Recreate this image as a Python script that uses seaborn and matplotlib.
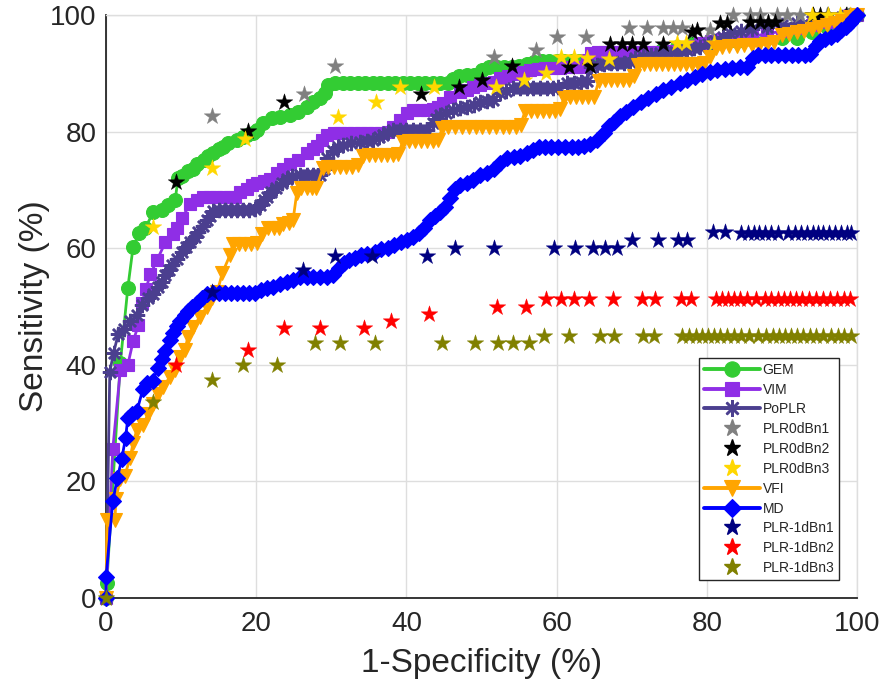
import matplotlib
matplotlib.use("Agg")
import matplotlib.pyplot as plt
import seaborn as sns
from matplotlib.lines import Line2D

# ---------------- data ----------------
gem_x = [0, 0.1, 1.9, 2.9, 3.6, 4.4, 5.2, 6.3, 7.4, 8.3, 9.2, 9.6, 10.1, 10.9, 11.6, 12.1, 13.0, 13.6,
         14.2, 15.0, 15.6, 16.3, 17.4, 18.2, 18.8, 19.6, 20.1, 20.9, 22.1, 23.2, 24.5, 25.6, 26.8, 27.6,
         28.5, 29.2, 29.6, 30.5, 31.5, 32.5, 33.5, 34.5, 35.5, 36.5, 37.5, 38.5, 39.5, 40.5, 41.5, 42.5,
         43.5, 44.5, 45.5, 46.2, 47.0, 48.0, 49.0, 50.0, 51.0, 52.0, 53.0, 54.0, 55.0, 56.0, 57.0, 58.0,
         59.0, 60.0, 61.0, 62.0, 63.0, 64.0, 65.0, 66.0, 67.0, 68.0, 69.0, 70.5, 72.0, 74.0, 76.0, 78.0,
         80.0, 82.0, 84.0, 86.0, 88.0, 90.0, 92.0, 94.0, 96.0, 98.0, 99.0, 100]
gem_y = [0, 2.6, 40.3, 53.2, 60.2, 62.6, 63.4, 66.2, 66.6, 67.4, 68.3, 72.0, 72.4, 73.2, 73.6, 74.4, 75.2, 75.8,
         76.4, 77.0, 77.4, 78.0, 78.6, 79.0, 79.4, 79.8, 80.3, 81.4, 82.3, 82.5, 82.8, 83.4, 84.3, 85.1,
         85.7, 86.6, 88.0, 88.3, 88.3, 88.3, 88.3, 88.3, 88.3, 88.3, 88.3, 88.3, 88.3, 88.3, 88.3, 88.3,
         88.3, 88.3, 88.3, 89.0, 89.6, 89.7, 89.7, 90.5, 91.0, 91.0, 91.0, 91.1, 91.2, 91.6, 92.0, 92.1,
         92.1, 92.1, 92.1, 92.1, 92.1, 92.1, 92.1, 92.1, 92.1, 92.1, 92.1, 93.0, 93.5, 94.0, 94.5, 95.0,
         95.2, 95.5, 95.5, 95.8, 96.0, 96.0, 96.0, 97.0, 98.0, 99.0, 100, 100]

vim_x = [0, 0.9, 1.9, 2.9, 3.6, 4.3, 4.8, 5.3, 5.9, 6.8, 7.9, 8.9, 9.5, 10.1, 11.2, 12.1, 12.9, 13.8, 14.7,
         15.6, 16.5, 17.2, 17.8, 18.8, 19.5, 20.1, 21.0, 21.8, 22.8, 23.5, 24.5, 25.6, 26.8, 27.5, 28.1,
         28.8, 29.4, 30.3, 31.2, 32.1, 33.0, 33.9, 34.8, 35.7, 36.6, 37.5, 38.2, 39.1, 40.1, 40.9, 41.8,
         42.7, 43.6, 44.2, 44.9, 45.8, 47.1, 48.0, 48.9, 49.8, 50.7, 51.6, 52.5, 53.5, 54.5, 55.5, 56.5,
         57.5, 58.5, 59.5, 60.5, 61.5, 62.5, 63.3, 64.0, 64.6, 65.5, 66.5, 67.5, 68.5, 69.5, 70.5, 71.5,
         72.5, 73.5, 74.5, 75.5, 76.5, 77.4, 78.3, 79.1, 80.5, 82.0, 84.0, 86.0, 88.0, 90.0, 92.0, 94.0,
         96.0, 98.0, 99.0, 100]
vim_y = [0, 25.6, 39.1, 40.0, 44.0, 46.8, 50.6, 53.0, 55.5, 58.0, 61.0, 62.4, 63.5, 65.2, 67.5, 68.2, 68.7, 68.7, 68.7,
         68.7, 68.7, 68.8, 69.6, 70.2, 70.8, 71.2, 71.6, 71.8, 72.9, 73.6, 74.5, 75.2, 76.3, 77.0, 77.6,
         78.6, 79.5, 79.8, 79.8, 79.8, 79.8, 79.8, 79.8, 79.8, 79.8, 79.9, 80.8, 82.0, 83.2, 83.7, 83.7,
         83.7, 83.8, 84.3, 84.9, 86.0, 86.8, 87.2, 87.7, 88.0, 88.3, 88.5, 89.2, 89.6, 89.9, 90.2, 90.6,
         90.8, 90.9, 90.9, 90.9, 91.0, 91.0, 91.1, 92.3, 93.4, 93.6, 93.7, 93.7, 93.7, 93.7, 93.7, 93.7,
         93.7, 93.6, 93.5, 93.8, 94.1, 94.3, 94.7, 95.2, 95.5, 95.8, 96.0, 96.3, 96.8, 97.2, 97.8, 98.3,
         98.8, 99.5, 100, 100]

poplr_x = [0, 0.5, 1.0, 1.6, 2.4, 3.2, 4.1, 4.8, 5.6, 6.3, 6.9, 7.4, 7.9, 8.4, 8.8, 9.5, 10.1, 10.7, 11.2,
           11.8, 12.3, 12.9, 13.4, 13.9, 14.3, 15.1, 15.9, 16.7, 17.5, 18.3, 19.1, 19.8, 20.5, 21.0, 21.4,
           22.0, 22.6, 23.4, 24.1, 24.8, 25.8, 26.7, 27.6, 28.5, 29.0, 29.4, 30.2, 30.9, 31.6, 32.6, 33.8,
           34.7, 35.6, 36.3, 36.9, 37.6, 38.2, 39.1, 40.0, 40.9, 41.8, 42.7, 43.5, 44.0, 44.5, 45.3, 46.2,
           47.1, 48.1, 49.0, 49.8, 50.7, 51.5, 52.5, 53.3, 54.2, 55.1, 56.0, 56.9, 57.8, 58.7, 59.5, 60.2,
           61.4, 62.3, 63.2, 64.0, 64.6, 65.4, 66.3, 67.2, 68.1, 69.0, 69.8, 70.4, 71.5, 72.6, 73.7, 74.7,
           75.7, 76.6, 77.4, 78.3, 79.1, 80.1, 81.1, 82.1, 83.1, 84.5, 86.0, 88.0, 90.0, 92.0, 94.0, 96.0,
           98.0, 99.0, 100]
poplr_y = [0, 38.8, 42.0, 45.2, 46.2, 47.5, 48.5, 50.2, 51.4, 52.2, 53.3, 54.2, 55.4, 56.2, 57.1, 58.2, 59.3, 60.2, 61.1,
           62.0, 62.8, 63.8, 64.8, 65.6, 66.4, 66.6, 66.6, 66.6, 66.6, 66.6, 66.6, 66.8, 67.4, 68.2, 68.8,
           69.6, 70.3, 71.2, 71.8, 72.3, 72.6, 72.6, 72.6, 72.6, 73.5, 75.4, 76.6, 77.4, 77.7, 78.0, 78.2,
           78.4, 78.6, 79.0, 79.4, 79.9, 80.3, 80.3, 80.3, 80.3, 80.3, 80.3, 81.5, 82.2, 82.8, 83.2, 83.7,
           84.0, 84.2, 84.6, 85.0, 85.3, 85.5, 86.6, 87.0, 87.5, 87.5, 87.5, 87.5, 87.5, 87.5, 87.5, 87.6,
           88.3, 88.4, 88.5, 88.6, 91.0, 91.4, 91.6, 91.8, 91.8, 91.8, 91.9, 92.6, 93.0, 93.2, 93.4, 93.5,
           93.7, 93.9, 94.0, 94.3, 94.5, 95.1, 95.6, 96.2, 96.9, 97.2, 97.6, 98.0, 98.3, 98.7, 99.0, 99.3,
           99.7, 100, 100]

vfi_x = [0, 0.1, 1.2, 1.3, 1.9, 2.5, 3.2, 3.6, 4.1, 4.9, 5.6, 6.3, 6.9, 7.6, 8.5, 9.2, 9.9, 10.5, 10.9,
         11.6, 12.5, 13.4, 14.1, 14.8, 15.5, 16.5, 16.9, 17.7, 18.5, 19.3, 20.1, 20.8, 21.5, 22.3, 23.0,
         23.6, 24.3, 24.9, 25.4, 26.0, 26.7, 27.4, 28.0, 28.9, 29.6, 30.4, 31.2, 32.0, 32.8, 33.6, 34.2,
         35.0, 35.8, 36.6, 37.4, 38.2, 38.9, 39.5, 40.3, 41.1, 41.9, 42.7, 43.5, 44.2, 44.8, 45.6, 46.5,
         47.4, 48.3, 49.2, 50.1, 51.0, 51.9, 52.8, 53.7, 54.6, 55.2, 55.8, 56.6, 57.4, 58.2, 59.0, 59.8,
         60.4, 61.0, 61.8, 62.6, 63.4, 64.2, 65.0, 65.6, 66.4, 67.2, 68.0, 68.8, 69.6, 70.3, 70.8, 71.6,
         72.4, 73.2, 74.0, 74.8, 75.6, 76.4, 77.2, 78.0, 78.8, 79.6, 80.4, 81.2, 82.0, 83.0, 84.0, 85.0,
         86.0, 87.0, 88.0, 89.0, 90.0, 91.0, 92.0, 93.0, 94.0, 95.0, 96.0, 97.0, 98.0, 99.0, 100]
vfi_y = [0, 13.4, 13.4, 17.0, 20.4, 21.0, 24.0, 26.6, 28.8, 29.7, 31.5, 33.2, 35.0, 36.2, 37.9, 39.1, 41.3, 42.5, 44.8,
         46.5, 48.2, 49.9, 51.4, 52.5, 55.8, 58.8, 60.8, 60.8, 60.8, 60.8, 60.9, 62.4, 63.4, 63.4, 63.4,
         64.2, 64.4, 64.8, 69.5, 70.3, 70.3, 70.3, 70.4, 73.8, 73.9, 73.9, 73.9, 73.9, 73.9, 74.2, 75.8,
         76.0, 76.0, 76.0, 76.0, 76.0, 76.2, 78.2, 78.4, 78.4, 78.4, 78.4, 78.4, 78.6, 80.6, 80.8, 80.8,
         80.8, 80.8, 80.8, 80.8, 80.8, 80.8, 80.8, 80.8, 80.8, 81.2, 83.5, 83.6, 83.6, 83.6, 83.6, 83.6,
         83.8, 85.8, 85.9, 85.9, 85.9, 85.9, 86.0, 88.6, 88.8, 88.8, 88.8, 88.8, 88.8, 89.5, 91.5, 91.6,
         91.6, 91.6, 91.6, 91.6, 91.6, 91.6, 91.6, 91.6, 91.6, 91.8, 92.8, 94.3, 94.5, 94.6, 94.7, 94.8,
         94.8, 94.9, 95.0, 95.3, 96.6, 96.8, 97.0, 97.2, 97.6, 98.0, 98.3, 98.6, 99.0, 99.6, 100]

md_x = [0, 0.0, 0.9, 1.5, 2.1, 2.6, 2.9, 3.5, 4.1, 4.9, 5.5, 6.2, 6.9, 7.4, 7.9, 8.5, 8.9, 9.4, 9.9, 10.5,
        10.9, 11.5, 12.1, 12.8, 13.4, 14.2, 15.0, 15.8, 16.6, 17.4, 18.2, 19.0, 19.8, 20.6, 21.4, 22.2,
        23.1, 24.1, 24.9, 25.8, 26.7, 27.6, 28.5, 29.4, 30.2, 31.0, 31.7, 32.4, 33.2, 34.0, 34.8, 35.8,
        36.6, 37.5, 38.4, 39.3, 40.1, 40.9, 41.7, 42.4, 43.1, 43.8, 44.5, 45.2, 45.8, 46.4, 47.1, 48.1,
        48.9, 49.8, 50.7, 51.6, 52.5, 53.4, 54.3, 55.1, 56.0, 56.8, 57.6, 58.4, 59.3, 60.2, 61.1, 62.0,
        62.9, 63.7, 64.5, 65.4, 66.3, 67.0, 67.6, 68.4, 69.2, 70.2, 71.2, 72.2, 73.2, 74.2, 75.2, 76.4,
        77.4, 78.4, 79.4, 80.4, 81.4, 82.4, 83.4, 84.4, 85.4, 86.2, 86.8, 87.7, 88.6, 89.5, 90.4, 91.3,
        92.2, 93.1, 93.8, 94.5, 95.1, 95.8, 96.6, 97.3, 97.9, 98.5, 99.0, 99.5, 100]
md_y = [0, 3.6, 16.6, 20.5, 23.9, 27.5, 30.8, 31.5, 32.0, 35.8, 36.8, 37.2, 39.4, 41.0, 42.4, 44.2, 45.4, 46.6, 47.5, 48.5,
        49.2, 50.0, 50.6, 51.5, 52.2, 52.3, 52.3, 52.3, 52.3, 52.3, 52.3, 52.3, 52.4, 52.8, 53.2, 53.4,
        53.9, 54.2, 54.6, 55.0, 55.0, 55.0, 55.0, 55.0, 55.4, 56.6, 57.4, 58.0, 58.4, 58.8, 59.0, 59.3,
        59.8, 60.1, 60.5, 61.0, 61.4, 61.9, 62.6, 63.4, 64.8, 65.6, 66.2, 67.0, 68.6, 70.2, 70.8, 71.2,
        71.7, 72.6, 72.9, 73.6, 74.6, 75.4, 75.6, 75.9, 76.4, 76.9, 77.3, 77.3, 77.3, 77.3, 77.3, 77.3,
        77.4, 77.5, 77.8, 78.6, 79.8, 81.0, 81.6, 82.6, 83.3, 84.2, 85.0, 85.7, 86.4, 87.1, 87.6, 88.3,
        88.8, 89.3, 89.8, 90.3, 90.6, 90.8, 90.9, 91.0, 91.1, 92.6, 93.2, 93.2, 93.2, 93.2, 93.2, 93.2,
        93.2, 93.2, 93.3, 94.6, 95.6, 95.9, 96.3, 96.8, 97.4, 98.0, 98.6, 99.3, 100]

p0n1_x = [14.1, 26.3, 30.5, 51.7, 57.2, 60.1, 63.9, 69.7, 72.0, 74.2, 75.5, 76.7, 80.4,
          83.5, 85.8, 87.1, 89.3, 90.7, 92.4, 94.1, 96.0, 98.7]
p0n1_y = [82.7, 86.4, 91.3, 92.8, 94.0, 96.2, 96.2, 97.7, 97.7, 97.7, 97.7, 97.7, 97.5,
          100, 100, 100, 100, 100, 100, 100, 100, 100]

p0n2_x = [9.3, 18.9, 23.7, 41.9, 47.0, 50.1, 54.1, 61.6, 64.5, 67.1, 68.7, 70.0, 71.5, 74.2,
          78.0, 78.7, 81.8, 82.7, 85.8, 87.1, 88.1, 89.1, 94.1, 95.1, 96.1, 98.5]
p0n2_y = [71.4, 80.1, 85.1, 86.4, 87.6, 88.8, 91.3, 91.1, 91.2, 95.1, 95.1, 95.1, 95.1, 95.1,
          97.1, 97.4, 98.7, 98.7, 98.8, 98.8, 98.8, 98.8, 100, 100, 100, 100]

p0n3_x = [6.2, 14.1, 18.5, 30.9, 35.9, 39.2, 43.7, 51.9, 55.6, 58.6, 60.6, 62.3, 64.1, 67.0,
          76.0, 77.2, 81.0, 94.0, 96.2, 97.7, 99.1]
p0n3_y = [63.7, 73.8, 78.7, 82.5, 85.0, 87.6, 87.6, 87.6, 88.8, 90.1, 92.8, 92.8, 92.7, 92.4,
          95.2, 95.2, 95.2, 100, 100, 100, 100]

p1n1_x = [14.1, 26.2, 30.5, 35.4, 42.7, 46.4, 51.6, 59.7, 62.4, 64.9, 66.4, 68.1, 70.1, 73.5,
          76.2, 77.4, 80.8, 82.4, 84.5, 85.5, 86.3, 87.0, 87.8, 88.6, 89.5, 90.8, 91.8, 92.6,
          93.3, 94.1, 94.8, 95.5, 96.3, 97.1, 97.9, 98.6, 99.2]
p1n1_y = [52.5, 56.3, 58.7, 58.7, 58.7, 60.0, 60.0, 60.1, 60.1, 60.1, 60.1, 60.1, 61.4, 61.4,
          61.4, 61.4, 62.7, 62.7, 62.6, 62.6, 62.6, 62.6, 62.6, 62.6, 62.6, 62.6, 62.6, 62.6,
          62.6, 62.6, 62.6, 62.6, 62.6, 62.6, 62.6, 62.6, 62.6]

p1n2_x = [9.3, 18.9, 23.7, 28.5, 34.3, 37.9, 43.0, 52.0, 55.9, 58.6, 60.6, 62.3, 64.3, 67.5,
          71.4, 73.1, 76.6, 77.9, 81.2, 82.0, 82.8, 83.6, 84.4, 85.3, 86.5, 87.7, 88.6, 89.5,
          90.3, 91.1, 91.9, 92.7, 93.6, 94.5, 95.5, 96.4, 97.3, 98.2, 99.1]
p1n2_y = [40.0, 42.5, 46.3, 46.3, 46.3, 47.5, 48.8, 49.9, 49.9, 51.3, 51.3, 51.3, 51.3, 51.3,
          51.3, 51.3, 51.3, 51.3, 51.3, 51.3, 51.3, 51.3, 51.3, 51.3, 51.3, 51.3, 51.3, 51.3,
          51.3, 51.3, 51.3, 51.3, 51.3, 51.3, 51.3, 51.3, 51.3, 51.3, 51.3]

p1n3_x = [0, 6.3, 14.1, 18.3, 22.8, 27.8, 31.1, 35.8, 44.8, 49.1, 52.2, 54.2, 56.3, 58.3,
          61.6, 65.8, 67.6, 71.5, 72.9, 76.7, 77.6, 78.5, 79.4, 80.2, 81.0, 81.8, 82.7, 83.6,
          84.6, 85.6, 86.8, 87.9, 88.8, 89.6, 90.4, 91.2, 92.0, 92.8, 93.7, 94.6, 95.5, 96.5,
          97.4, 98.3, 99.2]
p1n3_y = [0, 33.6, 37.4, 39.9, 39.9, 43.8, 43.8, 43.8, 43.8, 43.8, 43.8, 43.8, 43.8, 45.0,
          45.0, 45.0, 45.0, 45.0, 45.0, 45.0, 45.0, 45.0, 45.0, 45.0, 45.0, 45.0, 45.0, 45.0,
          45.0, 45.0, 45.0, 45.0, 45.0, 45.0, 45.0, 45.0, 45.0, 45.0, 45.0, 45.0, 45.0, 45.0,
          45.0, 45.0, 45.0]

labels = ["GEM", "VIM", "PoPLR", "PLR0dBn1", "PLR0dBn2", "PLR0dBn3", "VFI", "MD",
          "PLR-1dBn1", "PLR-1dBn2", "PLR-1dBn3"]
colors = ["#33CC33", "#8F2EE6", "#4B3F8F", "#808080", "#000000", "#FFD700", "#FFA500",
          "#0000FF", "#000080", "#FF0000", "#808000"]

# ---------------- plotting ----------------
sns.set_theme(style="white")
plt.rcParams['font.family'] = ['Liberation Sans', 'DejaVu Sans']

fig = plt.figure(figsize=(8.8, 6.88), dpi=100)
ax = fig.add_axes([0.1205, 0.1308, 0.8534, 0.8474])

# (label, x, y, kind, marker, size)
series = [
    ("GEM", gem_x, gem_y, "line", "o", 10),
    ("VIM", vim_x, vim_y, "line", "s", 9),
    ("PoPLR", poplr_x, poplr_y, "line", (8, 2, 0), 11),
    ("PLR0dBn1", p0n1_x, p0n1_y, "star", "*", 12.5),
    ("PLR0dBn2", p0n2_x, p0n2_y, "star", "*", 12.5),
    ("PLR0dBn3", p0n3_x, p0n3_y, "star", "*", 12.5),
    ("VFI", vfi_x, vfi_y, "line", "v", 10),
    ("MD", md_x, md_y, "line", "D", 8.5),
]
series += [
    ("PLR-1dBn1", p1n1_x, p1n1_y, "star", "*", 12.5),
    ("PLR-1dBn2", p1n2_x, p1n2_y, "star", "*", 12.5),
    ("PLR-1dBn3", p1n3_x, p1n3_y, "star", "*", 12.5),
]

handles = []
for i, (lab, xs, ys, kind, mk, ms) in enumerate(series):
    col = colors[labels.index(lab)]
    z = 3 + i
    mew = 1.8 if mk == (8, 2, 0) else 0.8
    if kind == "line":
        sns.lineplot(x=xs, y=ys, ax=ax, sort=False, estimator=None, color=col,
                     linewidth=2.0, marker=mk, markersize=ms, markerfacecolor=col,
                     markeredgecolor=col, markeredgewidth=mew,
                     legend=False, zorder=z, clip_on=False)
        handles.append(Line2D([], [], color=col, linewidth=2.8, marker=mk,
                              markersize=ms * 1.1, markerfacecolor=col, markeredgecolor=col,
                              markeredgewidth=mew, label=lab))
    else:
        sns.scatterplot(x=xs, y=ys, ax=ax, marker="*", s=ms ** 2, color=col,
                        edgecolor=col, linewidth=0.3, legend=False, zorder=z, clip_on=False)
        handles.append(Line2D([], [], linestyle="none", marker="*", markersize=ms * 1.0,
                              color=col, markeredgecolor=col, label=lab))

ax.set_xlim(0, 100)
ax.set_ylim(0, 100)
ax.set_xticks([0, 20, 40, 60, 80, 100])
ax.set_yticks([0, 20, 40, 60, 80, 100])
ax.grid(True, color="#DEDEDE", linewidth=1.0)
ax.set_axisbelow(True)
for s in ["top", "right"]:
    ax.spines[s].set_color("#DEDEDE")
    ax.spines[s].set_linewidth(1.0)
for s in ["left", "bottom"]:
    ax.spines[s].set_color("#262626")
    ax.spines[s].set_linewidth(1.3)
ax.tick_params(axis="both", direction="in", length=6, width=1.1, color="#262626",
               labelsize=20, labelcolor="#262626", pad=7)
ax.tick_params(axis="x", pad=9)
ax.tick_params(top=False, right=False)

ax.set_xlabel("1-Specificity (%)", fontsize=24, color="#262626", labelpad=8)
ax.set_ylabel("Sensitivity (%)", fontsize=24, color="#262626", labelpad=0)

leg = ax.legend(handles=handles, loc="upper left", bbox_to_anchor=(0.790, 0.412),
                borderaxespad=0, fontsize=10, frameon=True, fancybox=False,
                handlelength=4.0, handletextpad=0.2, labelspacing=0.42, borderpad=0.35,
                framealpha=1)
leg.get_frame().set_edgecolor("#262626")
leg.get_frame().set_linewidth(1.0)
leg.set_zorder(30)

fig.savefig("out.png", dpi=100)
